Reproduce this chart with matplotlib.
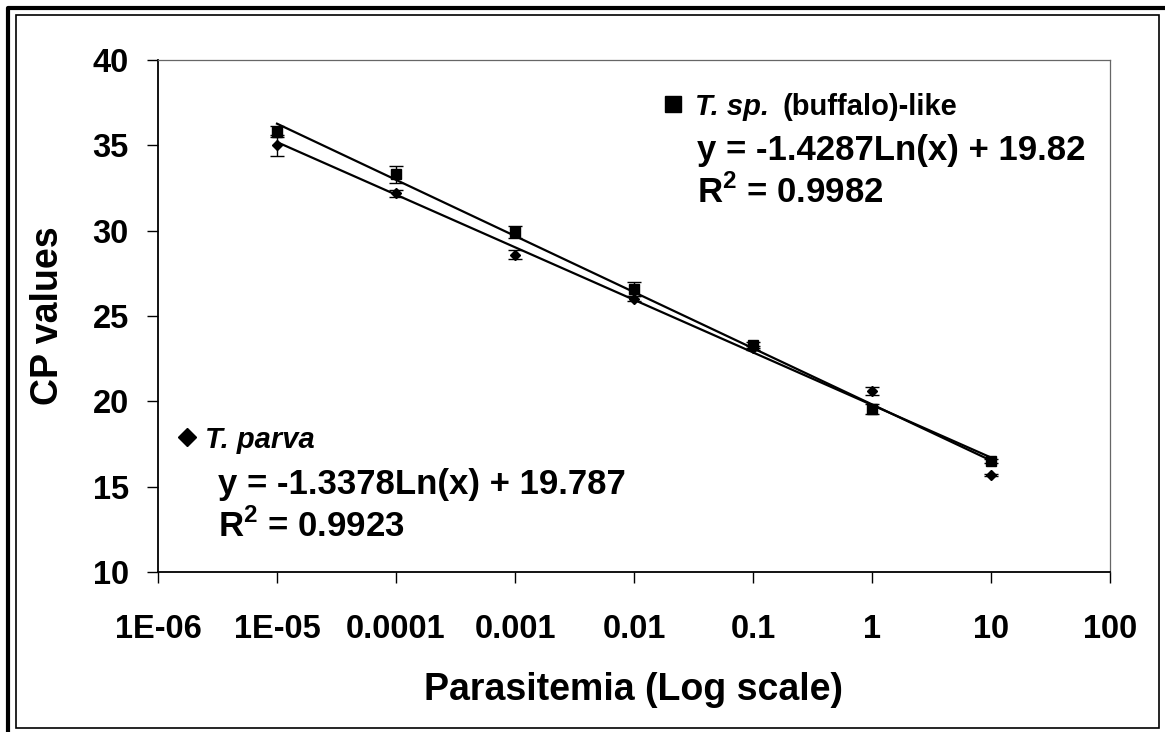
import numpy as np
import matplotlib
matplotlib.use("Agg")
import matplotlib.pyplot as plt
from matplotlib.lines import Line2D
from matplotlib.patches import Rectangle

plt.rcParams['font.family'] = ['Liberation Sans', 'DejaVu Sans']
plt.rcParams['font.weight'] = 'bold'
plt.rcParams['mathtext.fontset'] = 'custom'
plt.rcParams['mathtext.rm'] = 'Liberation Sans:bold'
plt.rcParams['mathtext.bf'] = 'Liberation Sans:bold'

# Parasitemia dilutions and measured crossing-point values
parasitemia = [1e-5, 1e-4, 1e-3, 1e-2, 1e-1, 1, 10]
cp_buffalo = [35.8, 33.3, 29.9, 26.6, 23.3, 19.55, 16.5]
err_buffalo = [0.33, 0.5, 0.35, 0.4, 0.2, 0.32, 0.1]
cp_parva = [35.0, 32.2, 28.6, 26.0, 23.1, 20.6, 15.7]
err_parva = [0.6, 0.2, 0.27, 0.15, 0.12, 0.25, 0.05]

# Logarithmic trendlines: y = a*ln(x) + b
fit_buffalo = (-1.4287, 19.82)
fit_parva = (-1.3378, 19.787)

x_ticks = [1e-6, 1e-5, 1e-4, 1e-3, 1e-2, 1e-1, 1, 10, 100]
x_ticklabels = ['1E-06', '1E-05', '0.0001', '0.001', '0.01', '0.1', '1', '10', '100']
y_ticks = [10, 15, 20, 25, 30, 35, 40]

W, H = 1165, 732
fig = plt.figure(figsize=(W / 100, H / 100), dpi=100)
ax = fig.add_axes([158 / W, (H - 572) / H, (1110 - 158) / W, (572 - 60) / H])

xs = np.logspace(-5, 1, 200)
for (a, b) in (fit_buffalo, fit_parva):
    ax.plot(xs, a * np.log(xs) + b, color='black', lw=1.6, zorder=2)

ax.errorbar(parasitemia, cp_buffalo, yerr=err_buffalo, fmt='s', color='black',
            ms=7, ecolor='black', elinewidth=1, capsize=5, capthick=1, zorder=3)
ax.errorbar(parasitemia, cp_parva, yerr=err_parva, fmt='D', color='black',
            ms=5.5, ecolor='black', elinewidth=1, capsize=5, capthick=1, zorder=3)

ax.set_xscale('log')
ax.set_xlim(1e-6, 100)
ax.set_ylim(10, 40)
ax.set_xticks(x_ticks)
ax.set_xticklabels(x_ticklabels)
ax.minorticks_off()
ax.set_yticks(y_ticks)
ax.tick_params(axis='both', direction='out', length=8, width=1, labelsize=23.5)
ax.tick_params(axis='x', pad=22)
ax.tick_params(axis='y', pad=13)
for lab in ax.get_xticklabels() + ax.get_yticklabels():
    lab.set_fontweight('bold')

for side in ('left', 'bottom'):
    ax.spines[side].set_linewidth(1.3)
    ax.spines[side].set_color('black')
for side in ('top', 'right'):
    ax.spines[side].set_linewidth(0.9)
    ax.spines[side].set_color('#666666')

ax.set_xlabel('Parasitemia (Log scale)', fontsize=27, fontweight='bold', labelpad=20)
ax.set_ylabel('CP values', fontsize=27, fontweight='bold', labelpad=19)

FS_NAME = 21
FS_EQ = 25


def ftext(x, y, s, fs, **kw):
    return fig.text(x / W, 1 - y / H, s, fontsize=fs, fontweight='bold',
                    va='baseline', **kw)


# Trendline annotations
ax.plot([673 / W], [1 - 104 / H], transform=fig.transFigure, marker='s', ms=11.5,
        color='black', clip_on=False)
t1 = ftext(695, 115, 'T. sp.', FS_NAME, style='italic')
fig.canvas.draw()
x_end = t1.get_window_extent().x1
ftext(x_end + 14, 115, '(buffalo)-like', FS_NAME)
ftext(697, 160, 'y = -1.4287Ln(x) + 19.82', FS_EQ)
ftext(697, 203, r'R$^{\mathbf{2}}$ = 0.9982', FS_EQ)

ax.plot([187 / W], [1 - 437 / H], transform=fig.transFigure, marker='D', ms=9,
        color='black', clip_on=False)
ftext(205, 448, 'T. parva', FS_NAME, style='italic')
ftext(218, 494, 'y = -1.3378Ln(x) + 19.787', FS_EQ)
ftext(218, 537, r'R$^{\mathbf{2}}$ = 0.9923', FS_EQ)

# Chart frame
fig.add_artist(Line2D([8 / W, 8 / W, 1.0], [0, 1 - 8 / H, 1 - 8 / H],
                      transform=fig.transFigure, color='black', lw=3))
fig.add_artist(Rectangle((16 / W, (H - 728) / H), (1159 - 16) / W, (728 - 15) / H,
                         transform=fig.transFigure, fill=False, ec='black', lw=1.2))

fig.savefig('out.png', dpi=100)
